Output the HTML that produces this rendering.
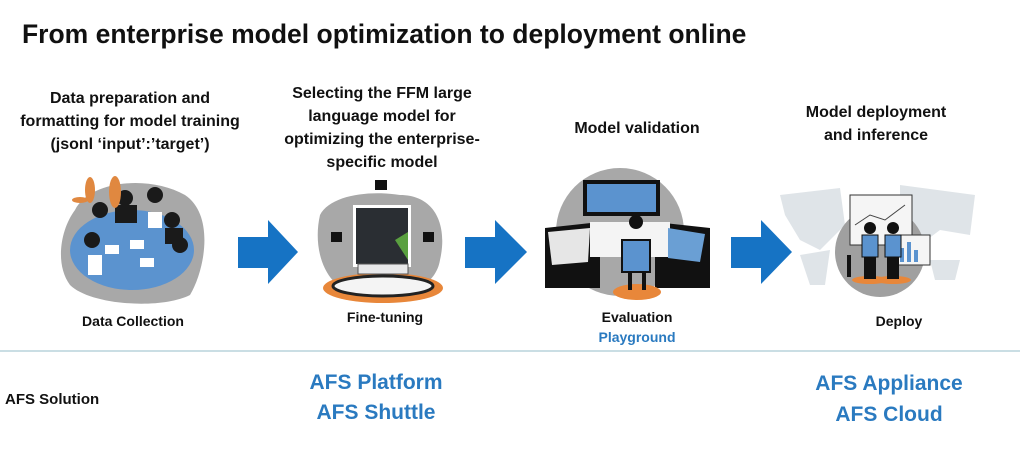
<!DOCTYPE html>
<html><head><meta charset="utf-8"><style>
body{margin:0;width:1024px;height:460px;background:#fff;position:relative;overflow:hidden;font-family:"Liberation Sans",Arial,sans-serif;font-weight:bold;color:#111}
.t{position:absolute;white-space:nowrap;text-align:center;transform:translateX(-50%);font-size:16px;line-height:23px}
.b{color:#2a7ac0}
svg{position:absolute;left:0;top:0}
</style></head><body>
<svg width="1024" height="460">
<g fill="#1673c4">
<polygon points="238,237 268,237 268,220 298,252 268,284 268,268 238,268"/>
<polygon points="465,237 495,237 495,220 527,252 495,284 495,268 465,268"/>
<polygon points="731,237 761,237 761,220 792,252 761,284 761,268 731,268"/>
</g>
<line x1="0" y1="351" x2="1020" y2="351" stroke="#b8d4dc" stroke-width="1.5"/>
<path d="M75,210 C90,180 150,175 185,195 C215,215 205,270 190,295 C160,310 90,305 70,285 C55,265 60,230 75,210Z" fill="#a8a8a8"/>
<ellipse cx="132" cy="250" rx="62" ry="40" fill="#5b93cf"/>
<g fill="#1a1a1a"><circle cx="100" cy="210" r="8"/><circle cx="125" cy="198" r="8"/><circle cx="155" cy="195" r="8"/><circle cx="172" cy="220" r="8"/><circle cx="180" cy="245" r="8"/><circle cx="92" cy="240" r="8"/>
<rect x="115" y="205" width="22" height="18"/><rect x="165" y="228" width="18" height="16"/></g>
<g fill="#fff"><rect x="105" y="245" width="14" height="9"/><rect x="130" y="240" width="14" height="9"/><rect x="140" y="258" width="14" height="9"/><rect x="148" y="212" width="14" height="16"/><rect x="88" y="255" width="14" height="20"/></g>
<g fill="#e08840"><ellipse cx="90" cy="190" rx="5" ry="13"/><ellipse cx="115" cy="192" rx="6" ry="16"/><ellipse cx="80" cy="200" rx="8" ry="3"/></g>
<path d="M320,215 C330,195 370,190 400,195 C435,195 448,225 440,260 C435,290 400,300 360,295 C325,290 312,250 320,215Z" fill="#a8a8a8"/>
<ellipse cx="383" cy="288" rx="60" ry="15" fill="#e8873a"/>
<ellipse cx="383" cy="286" rx="50" ry="10" fill="#f4f4f4" stroke="#222" stroke-width="3"/>
<rect x="353" y="205" width="58" height="62" fill="#fff"/>
<rect x="356" y="208" width="52" height="56" fill="#2a2e33"/>
<polygon points="395,240 408,232 408,260" fill="#5aa040"/>
<rect x="358" y="264" width="50" height="10" fill="#e8e8ea" stroke="#555"/>
<g fill="#111"><rect x="375" y="180" width="12" height="10"/><rect x="331" y="232" width="11" height="10"/><rect x="423" y="232" width="11" height="10"/></g>
<circle cx="620" cy="232" r="64" fill="#a8a8a8"/>
<rect x="583" y="180" width="77" height="36" fill="#111"/>
<rect x="587" y="184" width="69" height="28" fill="#5b93cf"/>
<polygon points="545,228 600,222 600,288 545,288" fill="#111"/>
<polygon points="655,222 710,228 710,288 655,288" fill="#111"/>
<rect x="590" y="222" width="80" height="35" fill="#f4f4f4"/>
<polygon points="548,232 590,228 588,262 552,265" fill="#e6e6e6"/>
<polygon points="668,228 705,234 700,262 668,258" fill="#6a9fd4"/>
<ellipse cx="637" cy="292" rx="24" ry="8" fill="#e8873a"/>
<rect x="622" y="240" width="28" height="32" fill="#5b93cf" stroke="#111" stroke-width="2"/>
<circle cx="636" cy="222" r="7" fill="#111"/>
<rect x="628" y="272" width="4" height="18" fill="#111"/><rect x="642" y="272" width="4" height="18" fill="#111"/>
<g fill="#dfe4e8">
<path d="M780,195 L840,188 L845,225 L820,250 L800,240 L785,215Z"/>
<path d="M800,255 L830,250 L825,285 L810,285Z"/>
<path d="M900,185 L975,195 L970,235 L940,230 L920,245 L900,230Z"/>
<path d="M930,260 L960,260 L955,280 L935,280Z"/>
</g>
<circle cx="880" cy="252" r="45" fill="#a0a0a0"/>
<rect x="850" y="195" width="62" height="50" fill="#f5f5f5" stroke="#333"/>
<polyline points="855,225 870,215 885,220 905,205" fill="none" stroke="#444"/>
<rect x="895" y="235" width="35" height="30" fill="#f5f5f5" stroke="#333"/>
<g fill="#5b93cf"><rect x="900" y="248" width="4" height="14"/><rect x="907" y="242" width="4" height="20"/><rect x="914" y="250" width="4" height="12"/></g>
<ellipse cx="870" cy="280" rx="18" ry="4" fill="#e8873a"/><ellipse cx="893" cy="280" rx="18" ry="4" fill="#e8873a"/>
<rect x="862" y="235" width="16" height="22" fill="#5b93cf" stroke="#111"/><rect x="885" y="235" width="16" height="22" fill="#5b93cf" stroke="#111"/>
<rect x="864" y="257" width="12" height="22" fill="#111"/><rect x="887" y="257" width="12" height="22" fill="#111"/>
<circle cx="870" cy="228" r="6" fill="#111"/><circle cx="893" cy="228" r="6" fill="#111"/>
<rect x="847" y="255" width="4" height="22" fill="#111"/>
</svg>
<div style="position:absolute;left:22px;top:19px;font-size:26.5px;white-space:nowrap">From enterprise model optimization to deployment online</div>
<div class="t" style="left:130px;top:87px">Data preparation and<br>formatting for model training<br>(jsonl ‘input’:’target’)</div>
<div class="t" style="left:382px;top:82px">Selecting the FFM large<br>language model for<br>optimizing the enterprise-<br>specific model</div>
<div class="t" style="left:637px;top:117px">Model validation</div>
<div class="t" style="left:876px;top:101px">Model deployment<br>and inference</div>
<div class="t" style="left:133px;top:310px;font-size:14px">Data Collection</div>
<div class="t" style="left:385px;top:306px;font-size:14px">Fine-tuning</div>
<div class="t" style="left:637px;top:306px;font-size:14px">Evaluation</div>
<div class="t b" style="left:637px;top:326px;font-size:14px">Playground</div>
<div class="t" style="left:899px;top:310px;font-size:14px">Deploy</div>
<div style="position:absolute;left:5px;top:391px;font-size:15px">AFS Solution</div>
<div class="t b" style="left:376px;top:368px;font-size:21px;line-height:30px">AFS Platform<br>AFS Shuttle</div>
<div class="t b" style="left:889px;top:368px;font-size:21px;line-height:31px">AFS Appliance<br>AFS Cloud</div>
</body></html>
